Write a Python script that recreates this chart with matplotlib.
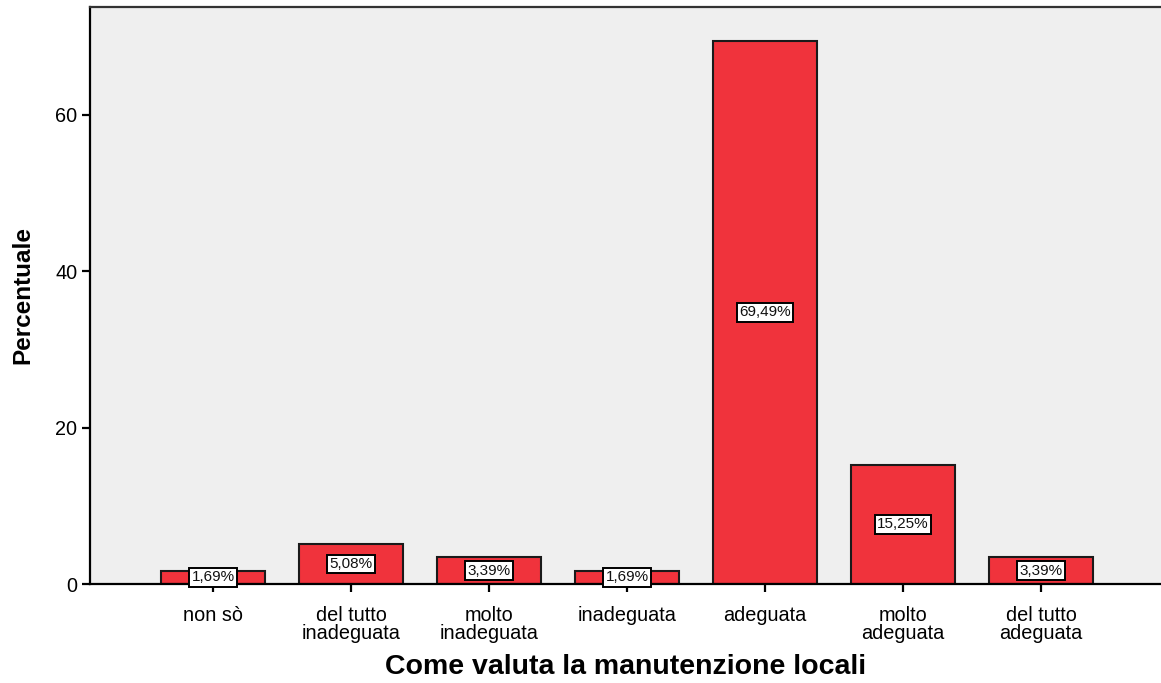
import matplotlib
matplotlib.use("Agg")
import matplotlib.pyplot as plt

categories = ["non sò", "del tutto\ninadeguata", "molto\ninadeguata", "inadeguata",
              "adeguata", "molto\nadeguata", "del tutto\nadeguata"]
values = [1.69, 5.08, 3.39, 1.69, 69.49, 15.25, 3.39]
labels = ["1,69%", "5,08%", "3,39%", "1,69%", "69,49%", "15,25%", "3,39%"]
yticks = [0, 20, 40, 60]

plt.rcParams['font.family'] = ['Liberation Sans', 'DejaVu Sans']

fig = plt.figure(figsize=(11.61, 6.83), dpi=100)
ax = fig.add_axes([90/1161, 1 - 584/683, 1 - 90/1161, (584 - 7)/683])
ax.set_facecolor('#EFEFEF')

x = list(range(len(categories)))
ax.bar(x, values, width=0.755, color='#F0333C', edgecolor='#1a1a1a', linewidth=1.5, zorder=2)

for xi, v, lab in zip(x, values, labels):
    ax.text(xi, v / 2, lab, ha='center', va='center', fontsize=11, color='#111111', zorder=3,
            bbox=dict(boxstyle='square,pad=0.15', facecolor='white', edgecolor='black', linewidth=1.4))

ax.set_xlim(-0.891, 6.87)
ax.set_ylim(0, 73.8)
ax.set_xticks(x)
ax.set_xticklabels(categories, fontsize=14.3, linespacing=0.92)
ax.set_yticks(yticks)
ax.set_yticklabels([str(t) for t in yticks], fontsize=14.3)
ax.tick_params(axis='both', direction='out', length=6, width=1.6, color='black')
ax.tick_params(axis='x', pad=10)
ax.tick_params(axis='y', pad=3)

for s in ['left', 'bottom', 'top']:
    ax.spines[s].set_linewidth(1.6)
    ax.spines[s].set_color('black')
ax.spines['top'].set_color('#333333')
ax.spines['right'].set_visible(False)

ax.set_xlabel("Come valuta la manutenzione locali", fontsize=20.5, fontweight='bold', labelpad=8)
ax.set_ylabel("Percentuale", fontsize=17.5, fontweight='bold', labelpad=15)

fig.savefig("out.png", dpi=100)
